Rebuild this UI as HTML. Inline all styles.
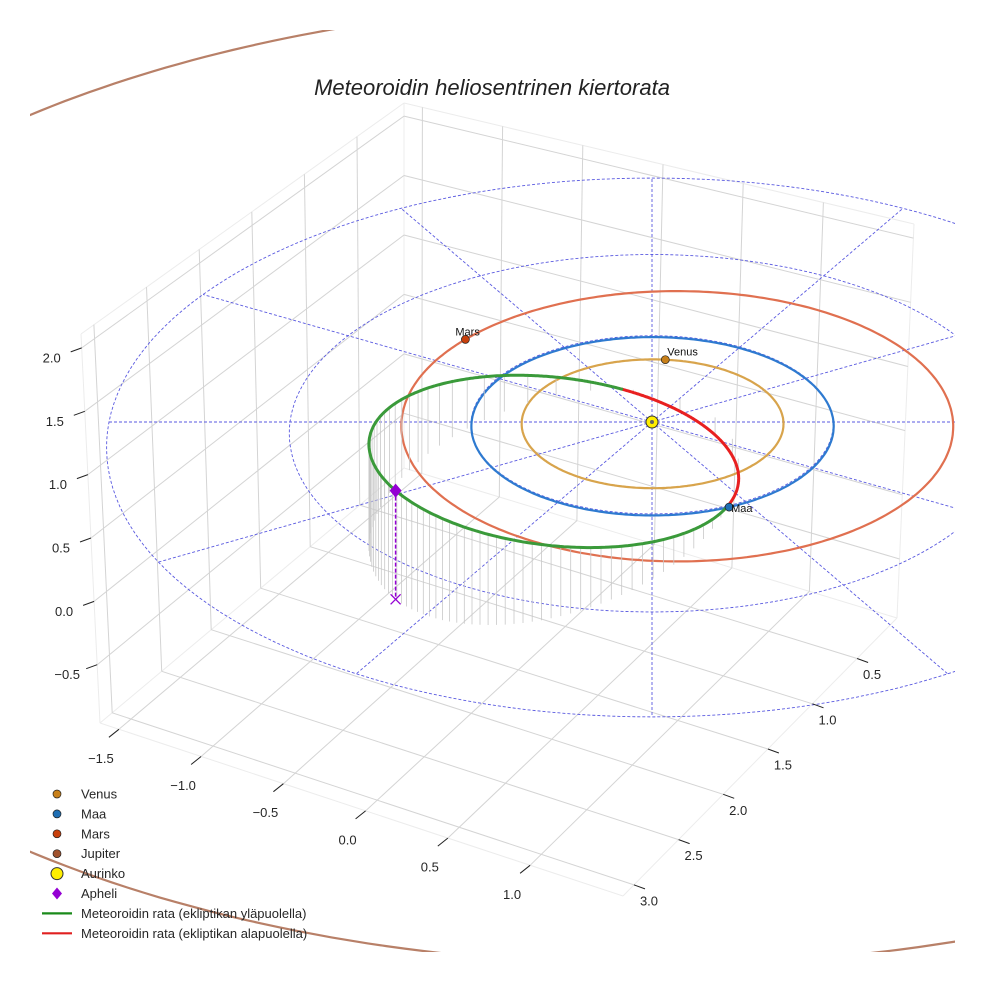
<!DOCTYPE html>
<html><head><meta charset="utf-8"><style>
html,body{margin:0;padding:0;background:#fff;}
svg{display:block;font-family:"Liberation Sans",sans-serif;}
</style></head><body>
<svg id="chart" width="984" height="984" viewBox="0 0 984 984" xmlns="http://www.w3.org/2000/svg">
<defs><clipPath id="clip"><rect x="30" y="30" width="925" height="922"/></clipPath></defs>
<text x="492" y="95" text-anchor="middle" font-size="22" font-style="italic" fill="#222">Meteoroidin heliosentrinen kiertorata</text>
<g id="plot" clip-path="url(#clip)"></g>
<g id="axes"></g>
<g id="legend"></g>
</svg>
<script>
// ---- data ----
const xTicks=[-1.5,-1.0,-0.5,0.0,0.5,1.0];
const yTicks=[0.5,1.0,1.5,2.0,2.5,3.0];
const zTicks=[-0.5,0.0,0.5,1.0,1.5,2.0];
const planetNames=['Venus','Maa','Mars','Jupiter'];
const planetA=[0.723,1.0,1.524,5.33];
const planetE=[0.0068,0.0167,0.093,0.04];
const planetPeri=[130,100,190,-95];
const planetAngle=[84,-66,138,200];
const ringRadii=[1,2,3];
const spokeAngles=[0,30,60,90,120,150,180,210,240,270,300,330];
const meteorP=0.5785;
const meteorE=0.767;
const meteorOmega=123.4;
const meteorNode=-66;
const meteorIncl=23.3;
const apheliPsi=-61.5;
const stemCount=80;

const NS='http://www.w3.org/2000/svg';
const plot=document.getElementById('plot');
const axes=document.getElementById('axes');
const legend=document.getElementById('legend');
function mk(tag,attrs,parent){const e=document.createElementNS(NS,tag);for(const k in attrs)e.setAttribute(k,attrs[k]);parent.appendChild(e);return e;}

// ---- box axis (trilinear) ----
const xr=[-1.615,1.565], yr=[0.053,3.123], zr=[-0.96,2.11];
const C={'000':[404,468],'010':[100,723],'110':[623,896],'100':[897,618],
         '001':[404,103],'011':[81,334],'111':[628,476],'101':[914,224]};
function B(x,y,z){
  const u=(x-xr[0])/(xr[1]-xr[0]), v=(y-yr[0])/(yr[1]-yr[0]), w=(z-zr[0])/(zr[1]-zr[0]);
  let px=0,py=0;
  for(const a of [0,1])for(const b of [0,1])for(const c of [0,1]){
    const wt=(a?u:1-u)*(b?v:1-v)*(c?w:1-w);const p=C[''+a+b+c];px+=wt*p[0];py+=wt*p[1];}
  return [px,py];
}
function line(p,q,st,sw,parent,extra){const e=mk('line',Object.assign({x1:p[0].toFixed(1),y1:p[1].toFixed(1),x2:q[0].toFixed(1),y2:q[1].toFixed(1),stroke:st,'stroke-width':sw},extra||{}),parent);return e;}
const grid='#d4d4d4', edge='#ececec';
[[[xr[0],yr[0],zr[0]],[xr[0],yr[0],zr[1]]],[[xr[0],yr[1],zr[0]],[xr[0],yr[1],zr[1]]],[[xr[1],yr[0],zr[0]],[xr[1],yr[0],zr[1]]],
 [[xr[0],yr[1],zr[1]],[xr[0],yr[0],zr[1]]],[[xr[0],yr[0],zr[1]],[xr[1],yr[0],zr[1]]],
 [[xr[0],yr[1],zr[0]],[xr[1],yr[1],zr[0]]],[[xr[1],yr[1],zr[0]],[xr[1],yr[0],zr[0]]],
 [[xr[0],yr[0],zr[0]],[xr[0],yr[1],zr[0]]],[[xr[0],yr[0],zr[0]],[xr[1],yr[0],zr[0]]]].forEach(s=>{
  const e=line(B(...s[0]),B(...s[1]),edge,1,plot);});
xTicks.forEach(x=>{
  let e=line(B(x,yr[0],zr[0]),B(x,yr[1],zr[0]),grid,1,plot);
  e=line(B(x,yr[0],zr[0]),B(x,yr[0],zr[1]),grid,1,plot);});
yTicks.forEach(y=>{
  let e=line(B(xr[0],y,zr[0]),B(xr[1],y,zr[0]),grid,1,plot);
  e=line(B(xr[0],y,zr[0]),B(xr[0],y,zr[1]),grid,1,plot);});
zTicks.forEach(z=>{
  let e=line(B(xr[0],yr[1],z),B(xr[0],yr[0],z),grid,1,plot);
  e=line(B(xr[0],yr[0],z),B(xr[1],yr[0],z),grid,1,plot);});
function fmt(v){return (v<0?'\u2212':'')+Math.abs(v).toFixed(1);}
function label(p,txt,name){const t=mk('text',{x:p[0].toFixed(1),y:(p[1]+4.5).toFixed(1),'text-anchor':'middle','font-size':13,fill:'#262626'},axes);t.textContent=txt;
  }
xTicks.forEach(x=>{const p=B(x,yr[1],zr[0]);const e=line(p,[p[0]-10,p[1]+8],'#222',1,axes);
  
  label([p[0]-18,p[1]+29],fmt(x),'x-tick-label');});
yTicks.forEach(y=>{const p=B(xr[1],y,zr[0]);const e=line(p,[p[0]+11,p[1]+4],'#222',1,axes);
  
  label([p[0]+15,p[1]+16],fmt(y),'y-tick-label');});
zTicks.forEach(z=>{const p=B(xr[0],yr[1],z);const e=line(p,[p[0]-11,p[1]+4],'#222',1,axes);
  
  label([p[0]-30,p[1]+10],fmt(z),'z-tick-label');});

// ---- ecliptic projection ----
function P(X,Y,Z){const d=1+0.0315*Y;return [652+181*X/d,422-(89*Y+120*(Z||0))/d];}
const rad=Math.PI/180;
function pathFrom(pts){return pts.map((p,i)=>(i?'L':'M')+p[0].toFixed(1)+' '+p[1].toFixed(1)).join(' ');}
ringRadii.forEach(r=>{const pts=[];for(let a=0;a<=360;a+=2)pts.push(P(r*Math.cos(a*rad),r*Math.sin(a*rad)));
  const e=mk('path',{d:pathFrom(pts),fill:'none',stroke:'#5a5ae0','stroke-width':0.9,'stroke-dasharray':'3,2'},plot);
  });
const rmax=ringRadii[ringRadii.length-1];
spokeAngles.forEach(a=>{const e=line(P(0,0),P(rmax*Math.cos(a*rad),rmax*Math.sin(a*rad)),'#5a5ae0',0.9,plot,{'stroke-dasharray':'3,2'});
  });
const orbitColors=['#d8a44c','#2e7ad0','#e07050','#b88068'];
const markerColors=['#c8801a','#1f6fb4','#c8400c','#a0522d'];
function pr(i,th){const a=planetA[i],e=planetE[i];return a*(1-e*e)/(1+e*Math.cos((th-planetPeri[i])*rad));}
planetNames.forEach((n,i)=>{const pts=[];for(let t=0;t<=360;t+=1){const r=pr(i,t);pts.push(P(r*Math.cos(t*rad),r*Math.sin(t*rad)));}
  const e=mk('path',{d:pathFrom(pts),fill:'none',stroke:orbitColors[i],'stroke-width':2.2},plot);
  });
const nx=Math.cos(meteorNode*rad), ny=Math.sin(meteorNode*rad), mx=-ny, my=nx;
const ci=Math.cos(meteorIncl*rad), si=Math.sin(meteorIncl*rad);
function M3(psi){const r=meteorP/(1+meteorE*Math.cos((psi-meteorOmega)*rad));
  const a=r*Math.cos(psi*rad), b=r*Math.sin(psi*rad);
  return [a*nx+b*ci*mx, a*ny+b*ci*my, -b*si];}
for(let k=0;k<stemCount;k++){
  const Mn=2*Math.PI*k/stemCount;let E=Mn;for(let j=0;j<30;j++)E=E-(E-meteorE*Math.sin(E)-Mn)/(1-meteorE*Math.cos(E));
  const nu=2*Math.atan2(Math.sqrt(1+meteorE)*Math.sin(E/2),Math.sqrt(1-meteorE)*Math.cos(E/2));
  const q=M3(meteorOmega+nu/rad);
  const e=line(P(q[0],q[1],q[2]),P(q[0],q[1],0),'#c8c8c8',0.8,plot);
  }
let segs=[],cur=null,curSign=null;
for(let s=0;s<=720;s++){const psi=s*0.5;const q=M3(psi);const sg=q[2]>=0;const p=P(q[0],q[1],q[2]);
  if(sg!==curSign){if(cur)cur.pts.push(p);cur={sign:sg,pts:[p]};segs.push(cur);curSign=sg;}else cur.pts.push(p);}
segs.forEach(sg=>{const e=mk('path',{d:pathFrom(sg.pts),fill:'none',stroke:sg.sign?'#3a9a3a':'#e82020','stroke-width':3,'stroke-linecap':'round'},plot);
  });
const ap=M3(apheliPsi), apP=P(ap[0],ap[1],ap[2]), apF=P(ap[0],ap[1],0);
let el=line(apP,apF,'#9400d3',1.5,plot,{'stroke-dasharray':'4,2'});

el=mk('path',{d:`M${apF[0]-5} ${apF[1]-5}L${apF[0]+5} ${apF[1]+5}M${apF[0]-5} ${apF[1]+5}L${apF[0]+5} ${apF[1]-5}`,stroke:'#9400d3','stroke-width':1.3,fill:'none'},plot);

el=mk('path',{d:`M${apP[0]} ${apP[1]-7}L${apP[0]+6} ${apP[1]}L${apP[0]} ${apP[1]+7}L${apP[0]-6} ${apP[1]}Z`,fill:'#9400d3'},plot);

planetNames.forEach((n,i)=>{const r=pr(i,planetAngle[i]);const p=P(r*Math.cos(planetAngle[i]*rad),r*Math.sin(planetAngle[i]*rad));
  const c=mk('circle',{cx:p[0].toFixed(1),cy:p[1].toFixed(1),r:4,fill:markerColors[i],stroke:'#222','stroke-width':0.7},plot);
  
  const t=mk('text',{x:(p[0]+(n==='Mars'?-10:2)).toFixed(1),y:(p[1]+(n==='Maa'?5:-4)).toFixed(1),'font-size':11,fill:'#111'},plot);t.textContent=n;
  });
const sp=P(0,0);
el=mk('circle',{cx:sp[0],cy:sp[1],r:6,fill:'#ffee00',stroke:'#333','stroke-width':1},plot);

el=mk('circle',{cx:sp[0],cy:sp[1],r:2,fill:'#666'},plot);


const legLabels=['Venus','Maa','Mars','Jupiter','Aurinko','Apheli','Meteoroidin rata (ekliptikan yläpuolella)','Meteoroidin rata (ekliptikan alapuolella)'];
legLabels.forEach((l,i)=>{const y=794+19.9*i;
  const g=mk('g',{},legend);
  let m;
  if(i<4){m=mk('circle',{cx:57,cy:y,r:4,fill:markerColors[i],stroke:'#222','stroke-width':0.7},g);}
  else if(i===4){m=mk('circle',{cx:57,cy:y,r:6,fill:'#ffee00',stroke:'#333','stroke-width':1},g);}
  else if(i===5){m=mk('path',{d:`M57 ${y-6}L62 ${y}L57 ${y+6}L52 ${y}Z`,fill:'#9400d3'},g);}
  else {m=mk('line',{x1:42,y1:y,x2:72,y2:y,stroke:i===6?'#1a8a1a':'#e02020','stroke-width':2.2},g);}
  
  const t=mk('text',{x:81,y:y+4.5,'font-size':13,fill:'#262626'},g);t.textContent=l;
  });
</script>
</body></html>
